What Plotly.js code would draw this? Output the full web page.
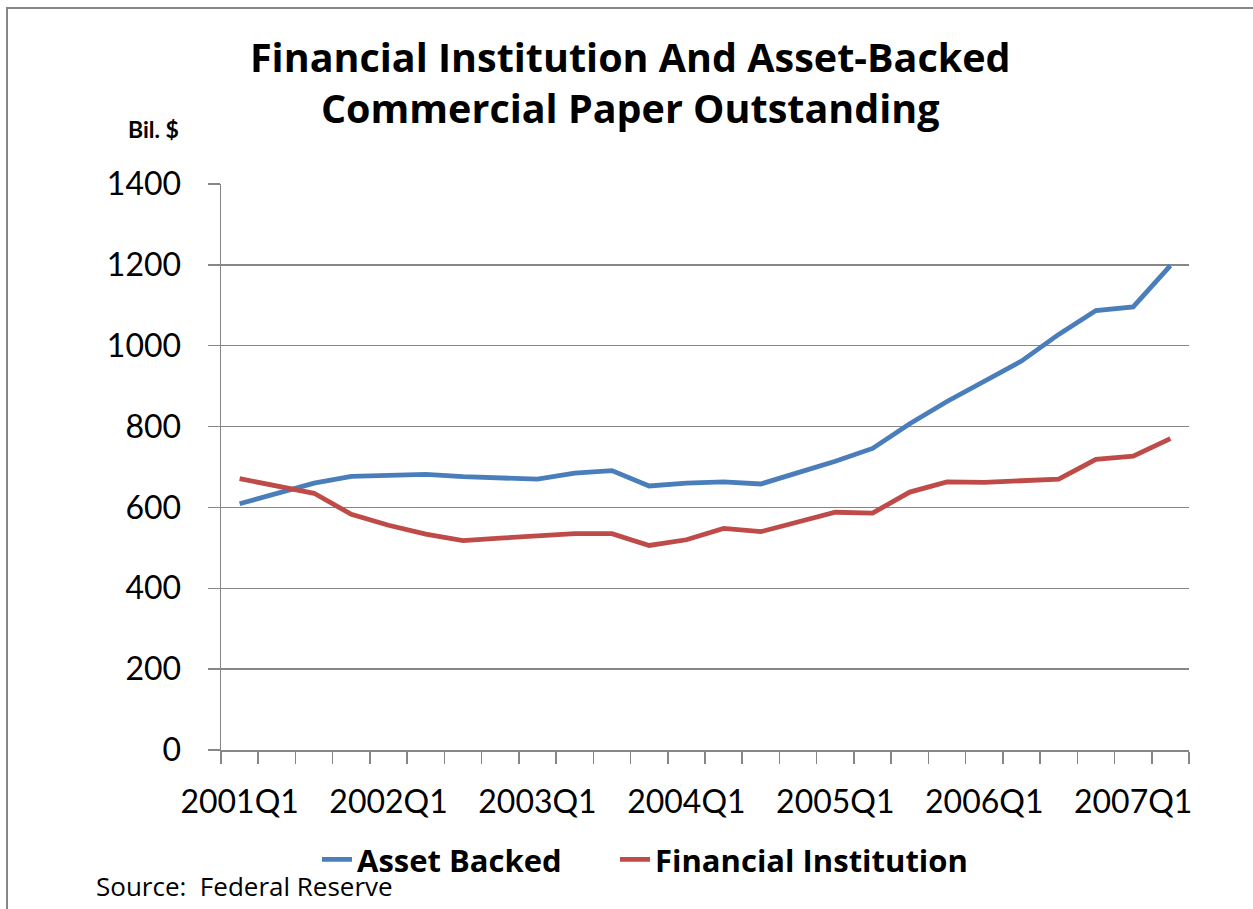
<!DOCTYPE html>
<html>
<head>
<meta charset="utf-8">
<script src="https://cdn.plot.ly/plotly-3.0.1.min.js"></script>
<style>
  html, body { margin: 0; padding: 0; background: #ffffff; }
  #chart { width: 1253px; height: 909px; }
</style>
</head>
<body>
<div id="chart"></div>
<script>
const categories = [
  "2001Q1","2001Q2","2001Q3","2001Q4",
  "2002Q1","2002Q2","2002Q3","2002Q4",
  "2003Q1","2003Q2","2003Q3","2003Q4",
  "2004Q1","2004Q2","2004Q3","2004Q4",
  "2005Q1","2005Q2","2005Q3","2005Q4",
  "2006Q1","2006Q2","2006Q3","2006Q4",
  "2007Q1","2007Q2"
];
const assetBacked = [609, 635, 660, 677, 680, 682, 676, 673, 670, 685, 691, 653, 660, 663, 658, 686, 714, 746, 807, 862, 913, 962, 1028, 1087, 1096, 1198];
const financialInstitution = [671, 652, 635, 583, 556, 534, 518, 524, 530, 535, 535, 506, 520, 548, 540, 564, 588, 586, 638, 663, 662, 666, 670, 719, 727, 770];
const labelledTicks = ["2001Q1","2002Q1","2003Q1","2004Q1","2005Q1","2006Q1","2007Q1"];
const yTicks = [0, 200, 400, 600, 800, 1000, 1200, 1400];

const xIndex = categories.map((c, i) => i);
const tickIdx = labelledTicks.map(t => categories.indexOf(t));

const FONT = "Lato, 'Open Sans', sans-serif";
const WIDE = "'Open Sans', Lato, sans-serif";
const GRAY = "#868686";

const traces = [
  {
    x: xIndex, y: assetBacked, type: "scatter", mode: "lines",
    name: "Asset Backed",
    legend: "legend",
    line: { color: "#4A7EBB", width: 4.8 }
  },
  {
    x: xIndex, y: financialInstitution, type: "scatter", mode: "lines",
    name: "Financial Institution",
    legend: "legend2",
    line: { color: "#BE4B48", width: 4.8 }
  }
];

const legendFont = { family: WIDE, size: 31, weight: "bold", color: "#000000" };

const layout = {
  width: 1253, height: 909,
  margin: { l: 221, r: 64, t: 184, b: 159 },
  paper_bgcolor: "#ffffff", plot_bgcolor: "#ffffff",
  font: { family: FONT, color: "#000000" },
  title: {
    text: "Financial Institution And Asset-Backed<br>Commercial Paper Outstanding",
    font: { family: WIDE, size: 39.5, weight: "bold", color: "#000000" },
    x: 0.503, xanchor: "center",
    yref: "container", y: 0.921, yanchor: "middle"
  },
  showlegend: true,
  legend: {
    orientation: "h",
    x: (317 - 221) / 968, xanchor: "left",
    y: -0.194, yanchor: "middle",
    font: legendFont,
    itemwidth: 30,
    bgcolor: "rgba(0,0,0,0)"
  },
  legend2: {
    orientation: "h",
    x: (615 - 221) / 968, xanchor: "left",
    y: -0.194, yanchor: "middle",
    font: legendFont,
    itemwidth: 30,
    bgcolor: "rgba(0,0,0,0)"
  },
  xaxis: {
    type: "linear",
    range: [-0.5, categories.length - 0.5],
    tickmode: "array",
    tickvals: tickIdx,
    ticktext: labelledTicks,
    ticks: "",
    ticklabelstandoff: 23,
    tickfont: { family: FONT, size: 32, color: "#000000" },
    showgrid: false,
    zeroline: false,
    showline: true, linecolor: GRAY, linewidth: 1.5,
    minor: {
      tickmode: "linear", tick0: -0.5, dtick: 1,
      ticks: "outside", ticklen: 12, tickcolor: GRAY, tickwidth: 1.5,
      showgrid: false
    },
    fixedrange: true
  },
  yaxis: {
    range: [0, 1400],
    tickmode: "array",
    tickvals: yTicks,
    ticktext: yTicks.map(String),
    ticks: "outside", ticklen: 12, tickcolor: GRAY, tickwidth: 1.5,
    ticklabelstandoff: 20,
    tickfont: { family: FONT, size: 32, color: "#000000" },
    showgrid: true, gridcolor: GRAY, gridwidth: 1.5,
    zeroline: false,
    showline: true, linecolor: GRAY, linewidth: 1.5,
    fixedrange: true
  },
  shapes: [
    {
      type: "rect", xref: "paper", yref: "paper",
      x0: (7 - 221) / 968, x1: (1275 - 221) / 968,
      y0: (750 - 940) / 566, y1: (750 - 8) / 566,
      line: { color: GRAY, width: 2 },
      fillcolor: "rgba(0,0,0,0)",
      layer: "below"
    }
  ],
  annotations: [
    {
      text: "Bil. $", xref: "paper", yref: "paper",
      x: (153 - 221) / 968, y: (750 - 129) / 566,
      xanchor: "center", yanchor: "middle", showarrow: false,
      font: { family: FONT, size: 23, weight: "bold", color: "#000000" }
    },
    {
      text: "Source:&nbsp; Federal Reserve", xref: "paper", yref: "paper",
      x: (94 - 221) / 968, y: (750 - 886) / 566,
      xanchor: "left", yanchor: "middle", showarrow: false,
      font: { family: WIDE, size: 26, color: "#000000" }
    }
  ]
};

Plotly.newPlot("chart", traces, layout, { displayModeBar: false, staticPlot: true });
</script>
</body>
</html>
